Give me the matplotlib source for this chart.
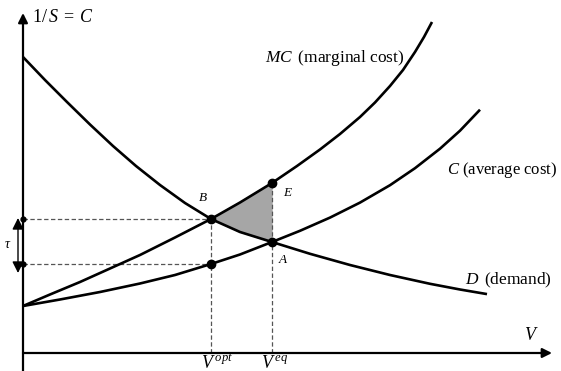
import matplotlib
matplotlib.use("Agg")
import matplotlib.pyplot as plt

plt.rcParams['font.family'] = ['Liberation Serif', 'DejaVu Serif']
plt.rcParams['mathtext.fontset'] = 'custom'
plt.rcParams['mathtext.rm'] = 'Liberation Serif'
plt.rcParams['mathtext.it'] = 'Liberation Serif:italic'

# ---- data (conceptual units) ----
mc_x = [0, 27, 57, 87, 117, 152, 188, 217, 249, 274, 297, 317, 337, 352, 367, 380, 392, 401, 409]
mc_y = [47, 58.5, 71, 84.5, 98, 115.5, 134, 150.5, 170, 187, 203.5, 219, 236, 250.5, 267, 283, 301, 316, 331]

c_x = [0, 37, 77, 117, 152, 188, 217, 249, 277, 307, 337, 367, 392, 417, 437, 457]
c_y = [47, 53.5, 61, 69.5, 78, 89, 98.5, 111, 122.2, 135.4, 150.4, 167.8, 184.8, 204.3, 222.3, 243.3]

d_x = [0, 22, 44, 67, 90, 113, 137, 162, 188, 217, 249, 287, 327, 367, 407, 437, 464]
d_y = [296, 273, 251, 228.5, 207, 187, 168, 150, 134, 121, 111, 99.2, 88, 78, 69.2, 63.5, 58.9]

v_opt = 188
v_eq = 249

fig = plt.figure(figsize=(5.61, 3.71), dpi=100)
ax = fig.add_axes([0, 0, 1, 1])
ax.set_xlim(-23, 538)
ax.set_ylim(-18, 353)
ax.axis('off')

def val(xs, ys, x):
    return ys[xs.index(x)]

B = (v_opt, val(mc_x, mc_y, v_opt))
E = (v_eq, val(mc_x, mc_y, v_eq))
A = (v_eq, val(c_x, c_y, v_eq))
Cb = (v_opt, val(c_x, c_y, v_opt))

# shaded region between MC and D from V_opt to V_eq
mcx = [x for x in mc_x if v_opt <= x <= v_eq]
mcy = [y for x, y in zip(mc_x, mc_y) if v_opt <= x <= v_eq]
dx = [x for x in d_x if v_opt <= x <= v_eq]
dy = [y for x, y in zip(d_x, d_y) if v_opt <= x <= v_eq]
ax.fill(mcx + dx[::-1], mcy + dy[::-1], color='#a6a6a6', zorder=1)

# dashed guide lines
dash = dict(color='#555555', lw=0.9, ls=(0, (3.5, 2)), zorder=1)
ax.plot([0, B[0]], [B[1], B[1]], **dash)
ax.plot([0, Cb[0]], [Cb[1], Cb[1]], **dash)
ax.plot([v_opt, v_opt], [0, B[1]], **dash)
ax.plot([v_eq, v_eq], [0, E[1]], **dash)

# curves
lw = 1.9
for xs, ys in ((mc_x, mc_y), (c_x, c_y), (d_x, d_y)):
    ax.plot(xs, ys, color='k', lw=lw, zorder=3, solid_capstyle='butt',
            solid_joinstyle='round')

# axes with arrows
ax.annotate('', xy=(0, 340), xytext=(0, -20),
            arrowprops=dict(arrowstyle='-|>', lw=1.6, color='k', mutation_scale=14,
                            shrinkA=0, shrinkB=0))
ax.annotate('', xy=(529, 0), xytext=(0, 0),
            arrowprops=dict(arrowstyle='-|>', lw=1.6, color='k', mutation_scale=14,
                            shrinkA=0, shrinkB=0))

# tau arrow
ax.annotate('', xy=(-5, 135), xytext=(-5, 80),
            arrowprops=dict(arrowstyle='<|-|>', lw=1.0, color='k', mutation_scale=17,
                            shrinkA=0, shrinkB=0))
ax.text(-15, 108, r'$\tau$', fontsize=10, ha='center', va='center')

# points
for p in (B, E, A, Cb):
    ax.plot(*p, 'o', color='k', ms=6, zorder=5)
ax.plot([0, 0], [B[1], Cb[1]], 'o', color='k', ms=3.5, zorder=5)

# labels
ax.text(9, 336, r'$1/\,S\;=\;C$', fontsize=13, ha='left', va='center')
ax.text(242, 295, r'$MC\,$ (marginal cost)', fontsize=12.5, ha='left', va='center')
ax.text(424, 183, r'$C$ (average cost)', fontsize=12, ha='left', va='center')
ax.text(442, 73, r'$D\,$ (demand)', fontsize=12.5, ha='left', va='center')
ax.text(501, 18, r'$V$', fontsize=13, ha='left', va='center')
ax.text(175, 155, r'$B$', fontsize=9.5, ha='left', va='center')
ax.text(260, 160, r'$E$', fontsize=9.5, ha='left', va='center')
ax.text(255, 93, r'$A$', fontsize=9.5, ha='left', va='center')
ax.text(178, -10, r'$V^{\,opt}$', fontsize=13, ha='left', va='center')
ax.text(238, -10, r'$V^{\,eq}$', fontsize=13, ha='left', va='center')

fig.savefig('out.png', dpi=100)
